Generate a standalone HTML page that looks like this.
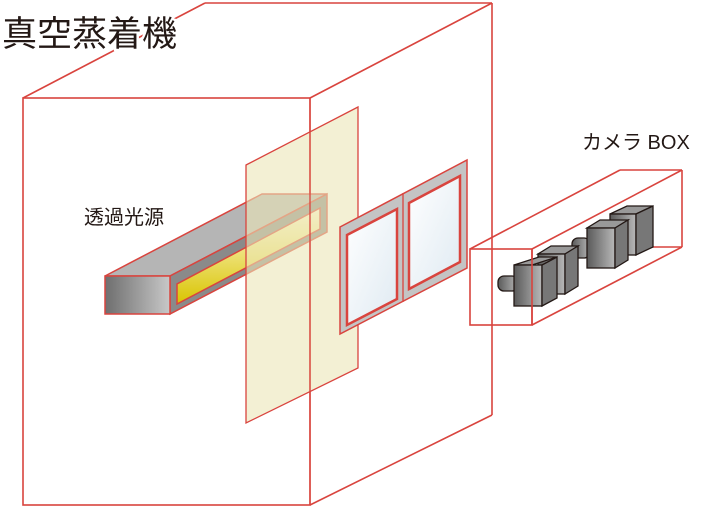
<!DOCTYPE html>
<html><head><meta charset="utf-8"><style>
html,body{margin:0;padding:0;background:#fff;width:728px;height:512px;overflow:hidden}
svg{display:block}
text{font-family:"Liberation Sans","Noto Sans CJK JP",sans-serif;fill:#231815}
</style></head><body>
<svg width="728" height="512" viewBox="0 0 728 512" xmlns="http://www.w3.org/2000/svg">
<defs>
<linearGradient id="g1" x1="0" x2="1" y1="0" y2="0"><stop offset="0" stop-color="#6e6e6e"/><stop offset="1" stop-color="#c8c8c8"/></linearGradient>
<linearGradient id="gy" x1="0" x2="0" y1="0" y2="1"><stop offset="0" stop-color="#fffbe0"/><stop offset="1" stop-color="#d9c400"/></linearGradient>
<linearGradient id="gc" x1="0" x2="1"><stop offset="0" stop-color="#5a5a5a"/><stop offset="1" stop-color="#b8b8b8"/></linearGradient>
<linearGradient id="gw" x1="0" x2="1" y1="0" y2="1"><stop offset="0" stop-color="#ffffff"/><stop offset="1" stop-color="#dfeaf2"/></linearGradient>
</defs>
<g fill="none" stroke="#d9443e" stroke-width="1.6">
<line x1="23" y1="98" x2="205" y2="3"/>
<line x1="310" y1="98" x2="492" y2="3"/>
<line x1="205" y1="3" x2="492" y2="3"/>
<line x1="492" y1="3" x2="492" y2="415"/>
<line x1="310" y1="505" x2="492" y2="415"/>
<rect x="23" y="98" width="287" height="407"/>
</g>
<polygon points="105,276 170,276 327,194 262,194" fill="#b5b5b5" stroke="#d9443e" stroke-width="1.5"/>
<polygon points="170,276 327,194 327,232 170,314" fill="#8a8a8a" stroke="#d9443e" stroke-width="1.5"/>
<polygon points="177,304 177,284 320,208 320,229" fill="url(#gy)" stroke="#d9443e" stroke-width="1.5"/>
<rect x="105" y="276" width="65" height="38" fill="url(#g1)" stroke="#d9443e" stroke-width="1.5"/>
<polygon points="246,165 358,107 358,368 246,423" fill="#ebe6b8" fill-opacity="0.6" stroke="#d9443e" stroke-width="1.3"/>
<line x1="310" y1="98" x2="310" y2="505" stroke="#d9443e" stroke-width="1.3"/>
<polygon points="340,227 467,160 467,268 340,334" fill="#c4c4c4" stroke="#d9443e" stroke-width="1.5"/>
<polygon points="347,235 397,209 397,299 347,325" fill="url(#gw)" stroke="#d9443e" stroke-width="2.5"/>
<polygon points="409,203 460,176 460,262 409,289" fill="url(#gw)" stroke="#d9443e" stroke-width="2.5"/>
<line x1="403" y1="193" x2="403" y2="302" stroke="#d9443e" stroke-width="1.3"/>
<g fill="none" stroke="#d9443e" stroke-width="1.6">
<rect x="470" y="249" width="62" height="76"/>
<line x1="470" y1="249" x2="620" y2="170"/>
<line x1="532" y1="249" x2="682" y2="170"/>
<line x1="620" y1="170" x2="682" y2="170"/>
<line x1="682" y1="170" x2="682" y2="247"/>
<line x1="532" y1="325" x2="682" y2="247"/>
<line x1="622" y1="247" x2="682" y2="247"/>
</g>
<g stroke="#231815" stroke-width="1.3">
<polygon points="610,214 636,214 653,206 627,206" fill="#999"/>
<rect x="610" y="214" width="26" height="41" fill="url(#gc)"/>
<polygon points="636,214 653,206 653,247 636,255" fill="#777"/>
<rect x="572" y="238" width="18" height="20" rx="6" fill="url(#gc)"/>
<polygon points="587,228 615,228 628,220 600,220" fill="#999"/>
<rect x="587" y="228" width="28" height="40" fill="url(#gc)"/>
<polygon points="615,228 628,220 628,260 615,268" fill="#777"/>
<polygon points="538,254 565,254 578,246 551,246" fill="#999"/>
<rect x="538" y="254" width="27" height="40" fill="url(#gc)"/>
<polygon points="565,254 578,246 578,286 565,294" fill="#777"/>
<rect x="498" y="276" width="20" height="15" rx="6" fill="url(#gc)"/>
<polygon points="514,265 532,265 557,257 539,257" fill="#999"/>
<rect x="514" y="265" width="28" height="41" fill="url(#gc)"/>
<polygon points="542,265 557,257 557,298 542,306" fill="#777"/>
</g>
<line x1="532" y1="249" x2="532" y2="325" stroke="#d9443e" stroke-width="1.6"/>
<text x="2" y="46" font-size="35" stroke="#fff" stroke-width="5" paint-order="stroke">真空蒸着機</text>
<text x="84" y="224" font-size="20">透過光源</text>
<text x="582" y="149" font-size="20">カメラ BOX</text>
</svg>
</body></html>
